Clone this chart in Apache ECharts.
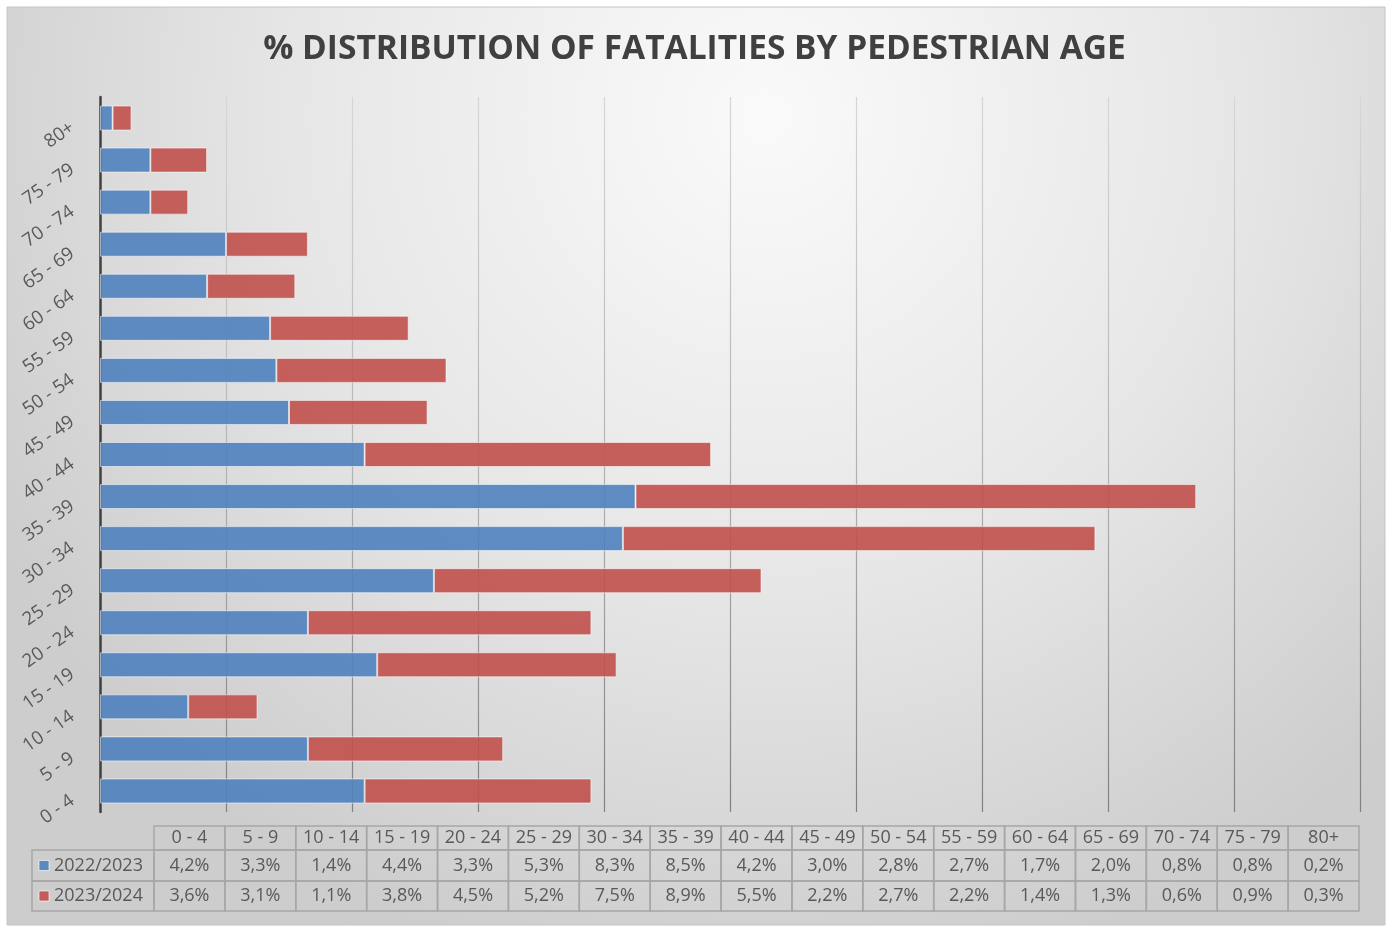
<!DOCTYPE html>
<html>
<head>
<meta charset="utf-8">
<script src="https://cdn.jsdelivr.net/npm/echarts@6/dist/echarts.min.js"></script>
<style>
  html, body { margin: 0; padding: 0; background: #fff; }
  #chart { width: 1389px; height: 930px; }
</style>
</head>
<body>
<div id="chart"></div>
<script>
var ageGroups = ['0 - 4', '5 - 9', '10 - 14', '15 - 19', '20 - 24', '25 - 29', '30 - 34', '35 - 39', '40 - 44',
  '45 - 49', '50 - 54', '55 - 59', '60 - 64', '65 - 69', '70 - 74', '75 - 79', '80+'];
var seriesNames = ['2022/2023', '2023/2024'];
var values2223 = [4.2, 3.3, 1.4, 4.4, 3.3, 5.3, 8.3, 8.5, 4.2, 3.0, 2.8, 2.7, 1.7, 2.0, 0.8, 0.8, 0.2];
var values2324 = [3.6, 3.1, 1.1, 3.8, 4.5, 5.2, 7.5, 8.9, 5.5, 2.2, 2.7, 2.2, 1.4, 1.3, 0.6, 0.9, 0.3];

(function() {
  var blue = '#4F81BD';
  var red = '#C0504D';
  var text = '#595959';
  var font = '"Open Sans", "DejaVu Sans", sans-serif';
  var seriesValues = [values2223, values2324];
  var seriesColors = [blue, red];

  function pct(v) { return v.toFixed(1).replace('.', ',') + '%'; }

  // data table under the plot
  var tLeft = 154, tRight = 1359, legLeft = 32;
  var rowsY = [826, 850, 881, 911];
  var colW = (tRight - tLeft) / ageGroups.length;
  var border = '#a6a6a6';
  var graphics = [];

  graphics.push({
    type: 'rect', z: -100, silent: true,
    shape: { x: 7, y: 7, width: 1378, height: 918 },
    style: {
      fill: new echarts.graphic.RadialGradient(0.55, 0.12, 0.95, [
        { offset: 0, color: '#fafafa' },
        { offset: 0.55, color: '#e6e6e6' },
        { offset: 1, color: '#cdcdcd' }
      ]),
      stroke: '#c4c4c4', lineWidth: 1
    }
  });

  ageGroups.forEach(function(name, i) {
    var x = tLeft + i * colW;
    graphics.push({
      type: 'rect', silent: true,
      shape: { x: x, y: rowsY[0], width: colW, height: rowsY[1] - rowsY[0] },
      style: { fill: 'none', stroke: border, lineWidth: 1.5 }
    });
    graphics.push({
      type: 'text', silent: true,
      style: { text: name, x: x + colW / 2, y: (rowsY[0] + rowsY[1]) / 2, align: 'center', verticalAlign: 'middle',
        fill: text, fontSize: 18, fontFamily: font }
    });
  });

  seriesNames.forEach(function(sname, r) {
    var y0 = rowsY[r + 1], y1 = rowsY[r + 2], cy = (y0 + y1) / 2;
    graphics.push({
      type: 'rect', silent: true,
      shape: { x: legLeft, y: y0, width: tLeft - legLeft, height: y1 - y0 },
      style: { fill: 'none', stroke: border, lineWidth: 1.5 }
    });
    graphics.push({
      type: 'rect', silent: true,
      shape: { x: 39, y: cy - 5, width: 10, height: 10 },
      style: { fill: seriesColors[r], stroke: 'rgba(255,255,255,0.7)', lineWidth: 1, opacity: 0.9 }
    });
    graphics.push({
      type: 'text', silent: true,
      style: { text: sname, x: 54, y: cy, align: 'left', verticalAlign: 'middle',
        fill: text, fontSize: 18, fontFamily: font }
    });
    seriesValues[r].forEach(function(v, i) {
      var x = tLeft + i * colW;
      graphics.push({
        type: 'rect', silent: true,
        shape: { x: x, y: y0, width: colW, height: y1 - y0 },
        style: { fill: 'none', stroke: border, lineWidth: 1.5 }
      });
      graphics.push({
        type: 'text', silent: true,
        style: { text: pct(v), x: x + colW / 2, y: cy, align: 'center', verticalAlign: 'middle',
          fill: text, fontSize: 18, fontFamily: font }
      });
    });
  });

  var chart = echarts.init(document.getElementById('chart'), null, { renderer: 'canvas' });
  chart.setOption({
    animation: false,
    backgroundColor: '#ffffff',
    title: {
      text: '% DISTRIBUTION OF FATALITIES BY PEDESTRIAN AGE',
      left: 'center',
      top: 27,
      textStyle: { color: '#404040', fontSize: 33.5, fontWeight: 'bold', fontFamily: font }
    },
    grid: { left: 100, right: 29, top: 97, bottom: 118, containLabel: false },
    xAxis: {
      type: 'value',
      min: 0, max: 20, interval: 2,
      axisLabel: { show: false },
      axisLine: { show: false },
      axisTick: { show: false },
      splitLine: {
        lineStyle: {
          width: 1.2,
          color: new echarts.graphic.LinearGradient(0, 97, 0, 812, [
            { offset: 0, color: '#d6d6d6' },
            { offset: 0.5, color: '#b4b4b4' },
            { offset: 1, color: '#808080' }
          ], true)
        }
      }
    },
    yAxis: {
      type: 'category',
      data: ageGroups,
      axisLine: { lineStyle: { color: '#404040', width: 2.5 } },
      axisTick: { show: false },
      axisLabel: { rotate: 35, margin: 33, verticalAlign: 'top', color: text, fontSize: 18.5, fontFamily: font }
    },
    series: seriesNames.map(function(name, k) {
      return {
        name: name,
        type: 'bar',
        stack: 'total',
        data: seriesValues[k],
        barWidth: 25,
        itemStyle: { color: seriesColors[k], opacity: 0.9, borderColor: 'rgba(255,255,255,0.6)', borderWidth: 1 }
      };
    }),
    graphic: graphics
  });
  window.addEventListener('resize', function() { chart.resize(); });
})();
</script>
</body>
</html>
